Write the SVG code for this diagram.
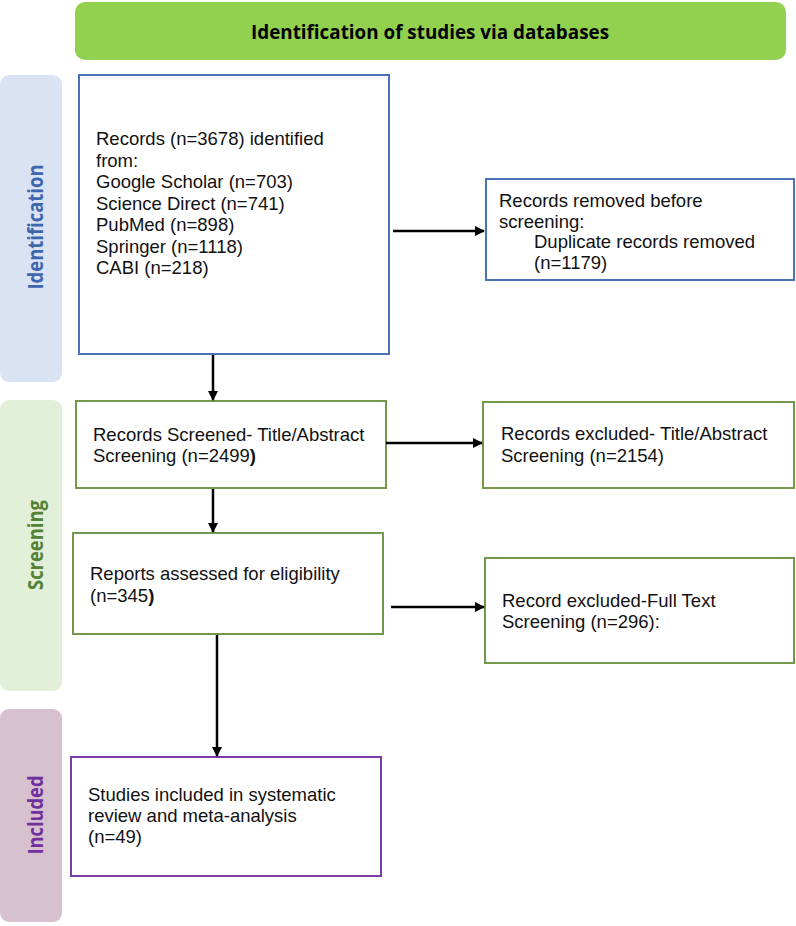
<svg xmlns="http://www.w3.org/2000/svg" width="796" height="926" viewBox="0 0 796 926">
<style>
.box{fill:#fff;stroke-width:2}
.blue{stroke:#4a72b8}
.green{stroke:#72984b}
.purple{stroke:#7a3aa8}
.t{font-family:"Liberation Sans",Arial,sans-serif;font-size:18.5px;fill:#111}
.band{font-family:"Open Sans","Noto Sans",sans-serif;font-weight:bold;font-size:22px}
.conn line{stroke:#000;stroke-width:2.5}
</style>
<defs>
<marker id="ah" markerWidth="10" markerHeight="10" refX="9" refY="5" orient="auto" markerUnits="userSpaceOnUse" viewBox="0 0 10 10">
<path d="M0,0 L10,5 L0,10 z" fill="#000"/>
</marker>
</defs>
<rect width="796" height="926" fill="#fff"/>
<g id="header">
<rect x="75" y="2" width="711" height="58" rx="10" fill="#92d050"/>
<text x="430" y="39" text-anchor="middle" font-family="'Open Sans','Noto Sans',sans-serif" font-weight="bold" font-size="20" textLength="358" lengthAdjust="spacingAndGlyphs" fill="#000">Identification of studies via databases</text>
</g>
<g id="band-identification">
<rect x="0" y="75" width="62" height="307" rx="9" fill="#dae3f3"/>
<text class="band" transform="translate(43,227) rotate(-90)" text-anchor="middle" textLength="125" lengthAdjust="spacingAndGlyphs" fill="#3e66ad">Identification</text>
</g>
<g id="band-screening">
<rect x="0" y="400" width="62" height="291" rx="9" fill="#e2efd9"/>
<text class="band" transform="translate(43,545) rotate(-90)" text-anchor="middle" textLength="90" lengthAdjust="spacingAndGlyphs" fill="#538135">Screening</text>
</g>
<g id="band-included">
<rect x="0" y="709" width="62" height="213" rx="9" fill="#d8c1cf"/>
<text class="band" transform="translate(43,815) rotate(-90)" text-anchor="middle" textLength="79" lengthAdjust="spacingAndGlyphs" fill="#7030a0">Included</text>
</g>
<g id="records-identified">
<rect class="box blue" x="79" y="75" width="310" height="279"/>
<text class="t" x="96" y="145">Records (n=3678) identified</text>
<text class="t" x="96" y="166.5">from:</text>
<text class="t" x="96" y="188">Google Scholar (n=703)</text>
<text class="t" x="96" y="209.5">Science Direct (n=741)</text>
<text class="t" x="96" y="231">PubMed (n=898)</text>
<text class="t" x="96" y="252.5">Springer (n=1118)</text>
<text class="t" x="96" y="274">CABI (n=218)</text>
</g>
<g id="records-removed">
<rect class="box blue" x="486" y="179" width="308" height="101"/>
<text class="t" x="499" y="207">Records removed before</text>
<text class="t" x="499" y="227.5">screening:</text>
<text class="t" x="534" y="248">Duplicate records removed</text>
<text class="t" x="534" y="268.5">(n=1179)</text>
</g>
<g id="records-screened">
<rect class="box green" x="76" y="401" width="310" height="87"/>
<text class="t" x="93" y="441">Records Screened- Title/Abstract</text>
<text class="t" x="93" y="462">Screening (n=2499<tspan font-weight="bold">)</tspan></text>
</g>
<g id="records-excluded">
<rect class="box green" x="483" y="402" width="311" height="86"/>
<text class="t" x="501" y="440">Records excluded- Title/Abstract</text>
<text class="t" x="501" y="462">Screening (n=2154)</text>
</g>
<g id="reports-assessed">
<rect class="box green" x="73" y="533" width="310" height="101"/>
<text class="t" x="90" y="580">Reports assessed for eligibility</text>
<text class="t" x="90" y="602">(n=345<tspan font-weight="bold">)</tspan></text>
</g>
<g id="fulltext-excluded">
<rect class="box green" x="485" y="558" width="309" height="105"/>
<text class="t" x="502" y="607">Record excluded-Full Text</text>
<text class="t" x="502" y="628">Screening (n=296):</text>
</g>
<g id="included-studies">
<rect class="box purple" x="71" y="757" width="310" height="119"/>
<text class="t" x="88" y="801">Studies included in systematic</text>
<text class="t" x="88" y="822">review and meta-analysis</text>
<text class="t" x="88" y="843">(n=49)</text>
</g>
<g class="conn" id="connectors">
<line x1="393" y1="231" x2="484" y2="231" marker-end="url(#ah)"/>
<line x1="213" y1="355" x2="213" y2="400" marker-end="url(#ah)"/>
<line x1="386" y1="443" x2="482" y2="443" marker-end="url(#ah)"/>
<line x1="213" y1="489" x2="213" y2="532" marker-end="url(#ah)"/>
<line x1="391" y1="607" x2="484" y2="607" marker-end="url(#ah)"/>
<line x1="217" y1="635" x2="217" y2="756" marker-end="url(#ah)"/>
</g>
</svg>
